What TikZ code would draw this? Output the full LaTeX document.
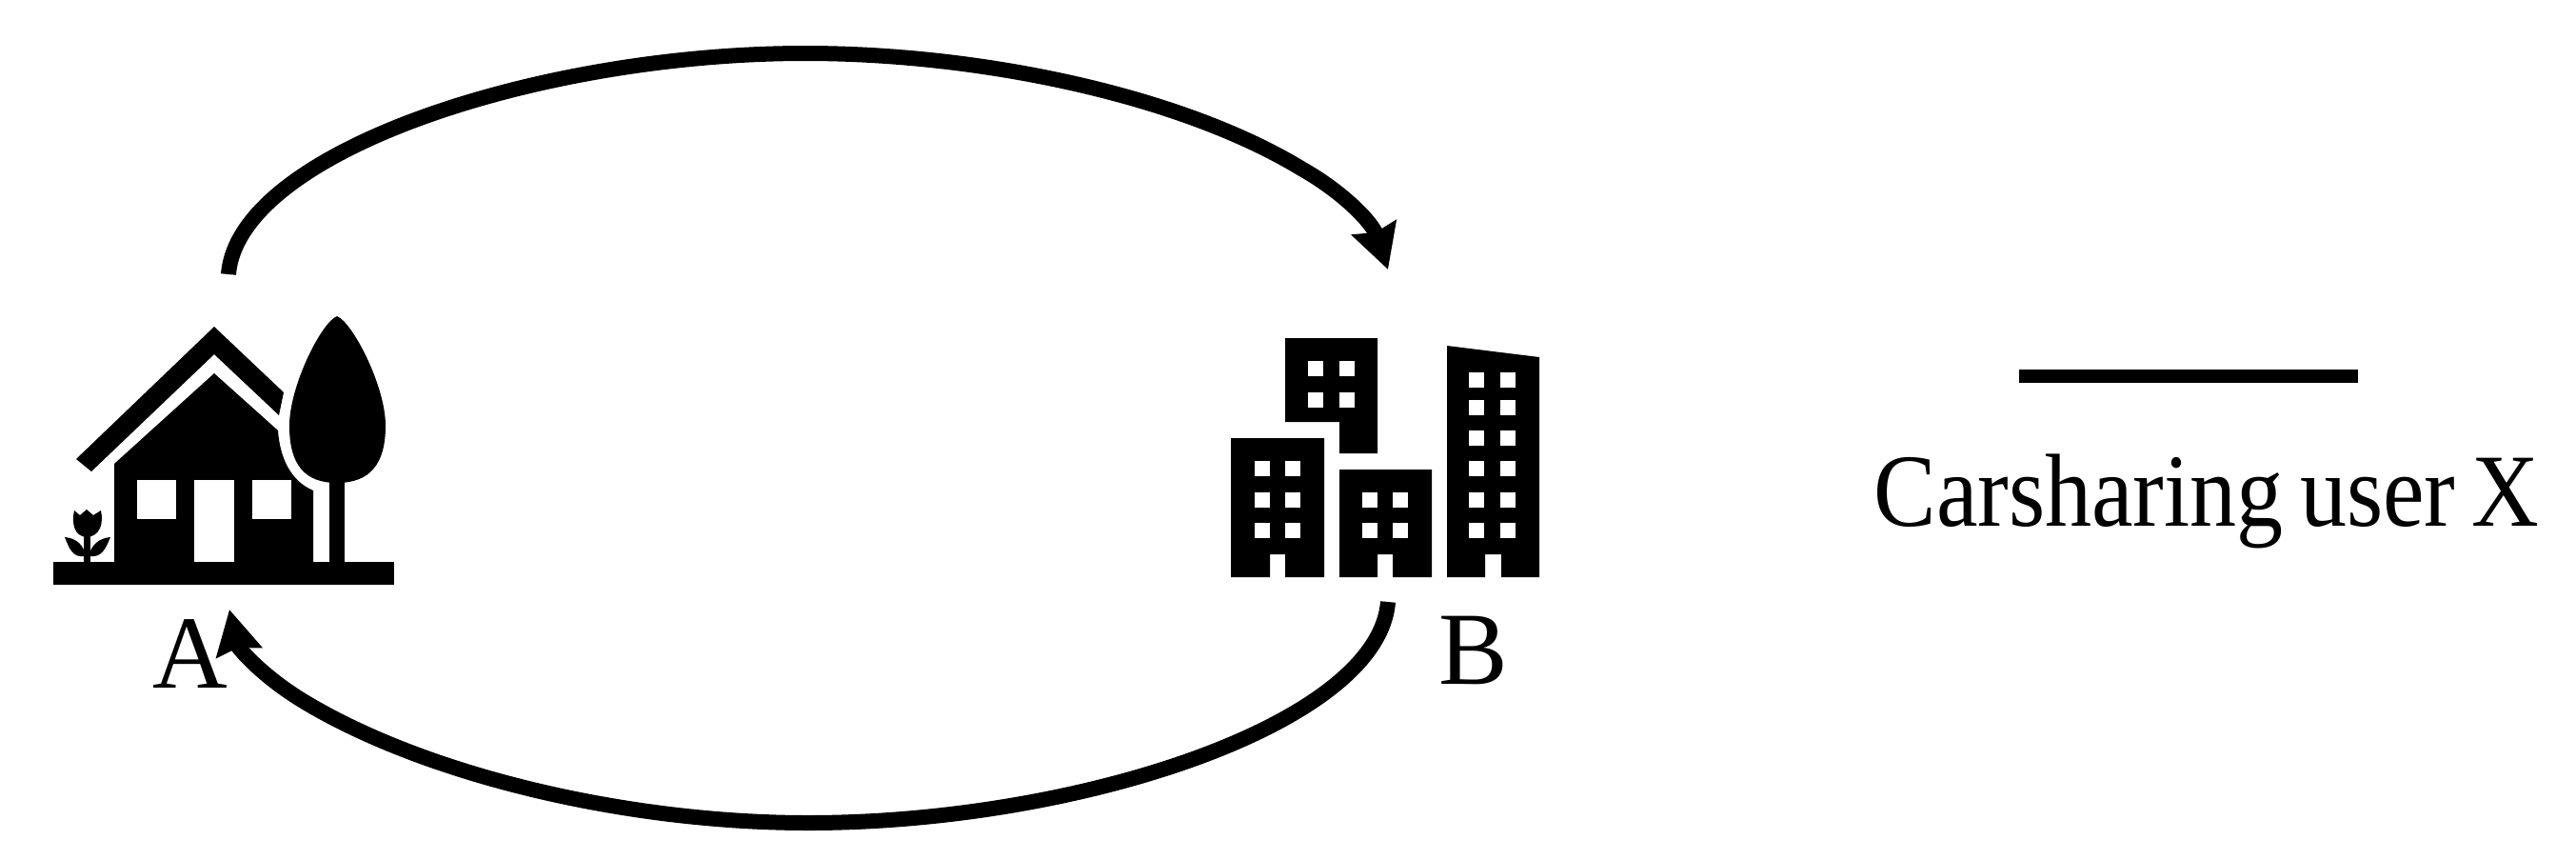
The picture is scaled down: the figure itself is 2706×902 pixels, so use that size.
\documentclass[tikz,border=0pt]{standalone}
\usepackage{fontspec}
\setmainfont{Liberation Serif}
\newfontfamily\narrowserif[FakeStretch=0.9, WordSpace=0.7]{Liberation Serif}
\usetikzlibrary{arrows.meta}
\newcommand{\unit}{*0.2845pt}
\newcommand{\winrow}[3]{\foreach \wx in {#1} \fill[white] (\wx,#2) rectangle +(#3,#3);}
\tikzset{
	solid black/.style={fill=black, draw=none},
	hole/.style={fill=white, draw=none},
	trip/.style={line width=16\unit, -{Stealth[length=46\unit,width=48\unit,inset=5\unit]}},
	place label/.style={font=\fontsize{31}{31}\selectfont, inner sep=0pt, anchor=base},
}
\begin{document}
\begin{tikzpicture}[x=.1mm, y=-.1mm]
	\useasboundingbox (0,0) rectangle (2706,902);
	% ground, roof and body of the house
	\fill[solid black] (56,590) rectangle (414,614);
	\fill[solid black] (80,482) -- (225,343) -- (298,412) -- (293,436) -- (225,372) -- (96,495) -- cycle;
	\fill[solid black] (120,487) -- (225,392) -- (292,452) .. controls (294,480) and (305,505) .. (329,515) -- (329,590) -- (120,590) -- cycle;
	\fill[hole] (144,504) rectangle (185,545);
	\fill[hole] (204,504) rectangle (246,590);
	\fill[hole] (265,504) rectangle (306,545);
	% tree
	\fill[solid black] (354,332) .. controls (338,338) and (304,405) .. (304,447) .. controls (304,488) and (320,507) .. (354,507) .. controls (388,507) and (405,488) .. (405,447) .. controls (405,405) and (370,338) .. (354,332) -- cycle;
	\fill[solid black] (346,500) rectangle (362,590);
	% flower
	\fill[solid black] (88,560) rectangle (95,590);
	\fill[solid black] (78,536) -- (84,541) -- (91,535) -- (98,541) -- (106,536) .. controls (109,550) and (105,563) .. (91,564) .. controls (78,563) and (75,550) .. (78,536) -- cycle;
	\fill[solid black] (68,564) .. controls (80,565) and (88,572) .. (90,584) .. controls (76,586) and (73,576) .. (68,564) -- cycle;
	\fill[solid black] (116,564) .. controls (104,565) and (96,572) .. (93,584) .. controls (107,586) and (111,576) .. (116,564) -- cycle;
	% buildings
	\fill[solid black] (1293,460) -- (1391,460) -- (1391,606) -- (1350,606) -- (1350,582) -- (1334,582) -- (1334,606) -- (1293,606) -- cycle;
	\fill[solid black] (1350,355) -- (1447,355) -- (1447,476) -- (1407,476) -- (1407,443) -- (1350,443) -- cycle;
	\fill[solid black] (1407,493) -- (1504,493) -- (1504,606) -- (1463,606) -- (1463,582) -- (1447,582) -- (1447,606) -- (1407,606) -- cycle;
	\fill[solid black] (1520,363) -- (1617,375) -- (1617,606) -- (1577,606) -- (1577,582) -- (1560,582) -- (1560,606) -- (1520,606) -- cycle;
	\foreach \wy in {484,517,549} {\winrow{1318,1350}{\wy}{16}}
	\foreach \wy in {379,412} {\winrow{1374,1407}{\wy}{16}}
	\foreach \wy in {517,549} {\winrow{1431,1463}{\wy}{16}}
	\foreach \wy in {391,420,452,484,517,549} {\winrow{1543,1576}{\wy}{16}}
	% labels
	\node[place label] (labelA) at (200,722) {A};
	\node[place label] (labelB) at (1548,718) {B};
	\node[place label] (userX) at (2318,552) {\narrowserif Carsharing user X};
	% trips
	\coordinate (homeOut) at (240,288);
	\coordinate (topPeak) at (846,56);
	\coordinate (topBend) at (1367,177);
	\coordinate (cityIn) at (1458,283);
	\coordinate (cityOut) at (1458,632);
	\coordinate (bottomPeak) at (849,864);
	\coordinate (bottomBend) at (320,737);
	\coordinate (homeIn) at (241,640);
	\draw[trip] (homeOut) .. controls (250,160) and (565,56) .. (topPeak) .. controls (1030,56) and (1240,100) .. (topBend) .. controls (1413,203) and (1442,235) .. (cityIn);
	\draw[trip] (cityOut) .. controls (1448,760) and (1133,864) .. (bottomPeak) .. controls (660,864) and (450,815) .. (bottomBend) .. controls (275,710) and (250,680) .. (homeIn);
	% legend line
	\coordinate (lineL) at (2121,395);
	\coordinate (lineR) at (2477,395);
	\draw[line width=14\unit] (lineL) -- (lineR);
\end{tikzpicture}
\end{document}
